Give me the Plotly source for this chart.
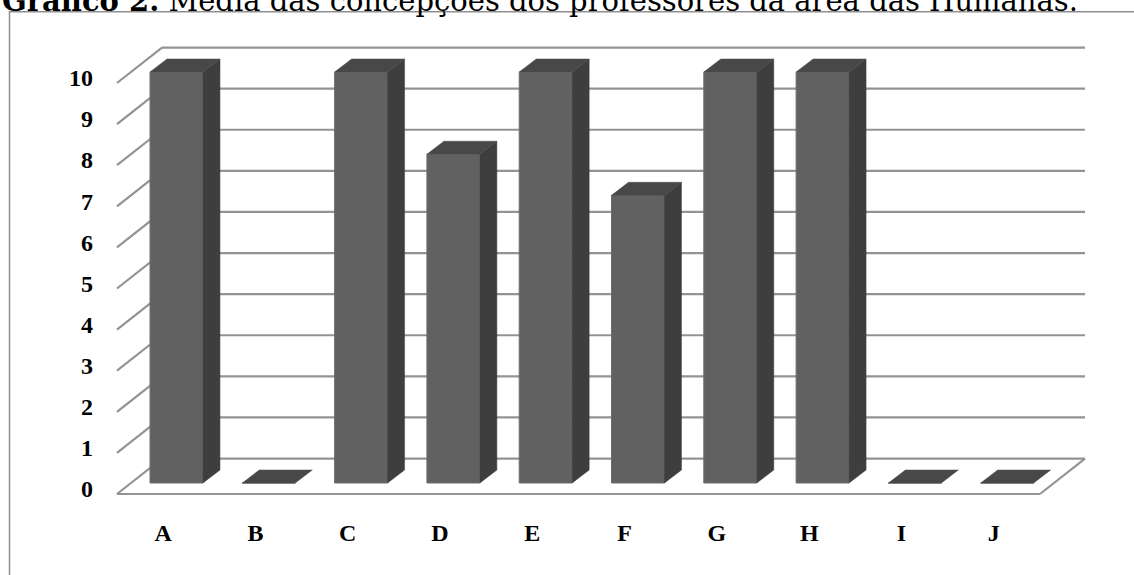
import plotly.graph_objects as go

# Data
categories = ["A", "B", "C", "D", "E", "F", "G", "H", "I", "J"]
values = [10, 0, 10, 8, 10, 7, 10, 10, 0, 0]
tick_values = list(range(0, 11))
tick_labels = [str(v) for v in tick_values]

# Styling / 3D geometry (in axis units)
FRONT_COLOR = "#616161"
SIDE_COLOR = "#3e3e3e"
TOP_COLOR = "#484848"
GRID_COLOR = "#939393"
BAR_HALF = 0.287          # half width of a bar's front face
BAR_DX, BAR_DY = 0.184, 0.316   # depth of a bar (oblique projection)
FRONT_DY = -0.268         # front edge of the floor / left wall
BACK_DY = 0.595           # back wall plane
WALL_LEFT_FRONT, WALL_LEFT_BACK = -0.645, -0.157
WALL_RIGHT_FRONT, WALL_RIGHT_BACK = 9.355, 9.843

W, H = 1134, 575
PX_X, PX_Y = 92.3, 41.1   # pixels per axis unit
x0 = -176.5 / PX_X
y1 = 483 / PX_Y

fig = go.Figure()

# Front faces of the bars
fig.add_trace(go.Bar(
    x=list(range(len(categories))), y=values, base=0, width=2 * BAR_HALF,
    marker=dict(color=FRONT_COLOR, line=dict(color="#6e6e6e", width=1)),
    hoverinfo="skip", showlegend=False,
))

# Side and top faces
for i, v in enumerate(values):
    xr = i + BAR_HALF
    xl = i - BAR_HALF
    if v > 0:
        fig.add_trace(go.Scatter(
            x=[xr, xr, xr + BAR_DX, xr + BAR_DX, xr],
            y=[0, v, v + BAR_DY, BAR_DY, 0],
            mode="lines", fill="toself", fillcolor=SIDE_COLOR,
            line=dict(color=SIDE_COLOR, width=0.5),
            hoverinfo="skip", showlegend=False,
        ))
    fig.add_trace(go.Scatter(
        x=[xl, xr, xr + BAR_DX, xl + BAR_DX, xl],
        y=[v, v, v + BAR_DY, v + BAR_DY, v],
        mode="lines", fill="toself", fillcolor=TOP_COLOR,
        line=dict(color=TOP_COLOR, width=0.5),
        hoverinfo="skip", showlegend=False,
    ))

# Walls and gridlines, drawn beneath the bars
shapes = []
grid_line = dict(color=GRID_COLOR, width=2.2)
for v in tick_values:
    shapes.append(dict(type="line", xref="x", yref="y", layer="below",
                       x0=WALL_LEFT_FRONT, y0=v + FRONT_DY,
                       x1=WALL_LEFT_BACK, y1=v + BACK_DY, line=grid_line))
    shapes.append(dict(type="line", xref="x", yref="y", layer="below",
                       x0=WALL_LEFT_BACK, y0=v + BACK_DY,
                       x1=WALL_RIGHT_BACK, y1=v + BACK_DY, line=grid_line))
# Floor outline
shapes.append(dict(type="line", xref="x", yref="y", layer="below",
                   x0=WALL_LEFT_FRONT, y0=FRONT_DY,
                   x1=WALL_RIGHT_FRONT, y1=FRONT_DY, line=grid_line))
shapes.append(dict(type="line", xref="x", yref="y", layer="below",
                   x0=WALL_RIGHT_FRONT, y0=FRONT_DY,
                   x1=WALL_RIGHT_BACK, y1=BACK_DY, line=grid_line))
# Outer frame (left and top edges)
shapes.append(dict(type="rect", xref="paper", yref="paper", layer="below",
                   x0=9.5 / W, x1=1.02, y0=-0.02, y1=1 - 11.7 / H,
                   line=dict(color="#8f8f8f", width=1.5)))

label_font = dict(family="Liberation Serif", size=24, color="#000000", weight="bold")

# Value labels along the left wall
fig.add_trace(go.Scatter(
    x=[-0.905] * len(tick_values), y=[v - 0.2 for v in tick_values],
    text=tick_labels, mode="text", textposition="middle left",
    textfont=label_font, hoverinfo="skip", showlegend=False,
))

# Category labels in front of the floor
fig.add_trace(go.Scatter(
    x=[i - 0.145 for i in range(len(categories))], y=[-1.265] * len(categories),
    text=categories, mode="text", textposition="middle center",
    textfont=label_font, hoverinfo="skip", showlegend=False,
))

fig.update_layout(
    width=W, height=H,
    margin=dict(l=0, r=0, t=0, b=0),
    paper_bgcolor="white", plot_bgcolor="white",
    xaxis=dict(visible=False, range=[x0, x0 + W / PX_X], fixedrange=True),
    yaxis=dict(visible=False, range=[y1 - H / PX_Y, y1], fixedrange=True),
    shapes=shapes,
    showlegend=False,
    annotations=[dict(
        xref="paper", yref="paper", x=0, y=1 - 0.5 / H,
        xanchor="left", yanchor="middle", showarrow=False,
        text="<b>Gráfico 2.</b> Média das concepções dos professores da área das Humanas.",
        font=dict(family="DejaVu Serif", size=29, color="#000000"),
    )],
)

fig.write_html("out.html")
